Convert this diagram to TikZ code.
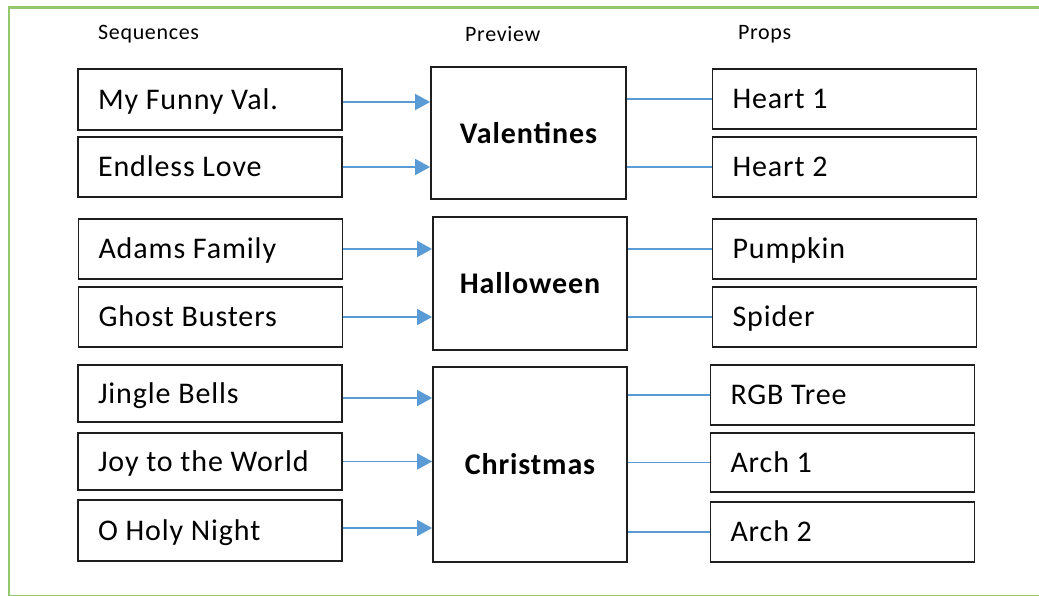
\documentclass[tikz,border=0pt]{standalone}
\usepackage{fontspec}
\setmainfont{Carlito}
\usetikzlibrary{arrows.meta}
\definecolor{framegreen}{RGB}{146,200,110}
\definecolor{arrowblue}{RGB}{91,155,213}
\definecolor{boxline}{RGB}{30,30,30}
\begin{document}
\begin{tikzpicture}[x=1pt,y=-1pt,
  tbox/.style={draw=boxline, line width=1.8pt, minimum height=#1, inner xsep=20pt, inner ysep=0pt,
    text width=224pt, align=left, text height=19.3pt, text depth=0pt,
    font=\fontsize{30}{36}\selectfont\addfontfeature{LetterSpace=3},
    execute at begin node={\spaceskip=0pt\xspaceskip=0pt\relax}},
  tbox/.default=60,
  pbox/.style 2 args={draw=boxline, line width=1.8pt, minimum width=#1, minimum height=#2, inner sep=0pt,
    font=\bfseries\fontsize{30}{36}\selectfont\addfontfeature{LetterSpace=3}},
  head/.style={anchor=west, inner sep=0pt, font=\fontsize{22}{26}\selectfont\addfontfeature{LetterSpace=3}},
  arr/.style={draw=arrowblue, line width=1.8pt, -{Triangle[length=15pt,width=16pt]}},
  lnk/.style={draw=arrowblue, line width=1.6pt}]
\useasboundingbox (0,0) rectangle (1039,595);
\clip (0,0) rectangle (1039,595);
\draw[framegreen, line width=2.6pt] (9,7.5) rectangle (1060,595.8);
% headers
\node[head] (hs) at (98,34) {Sequences};
\node[head] (hp) at (465,34) {Preview};
\node[head] (hr) at (738,34) {Props};
% left boxes
\node[tbox=61] (s1) at (210,99.5) {My Funny Val.};
\node[tbox=60] (s2) at (210,167) {Endless Love};
\node[tbox=60] (s3) at (210.5,249) {Adams Family};
\node[tbox=60] (s4) at (210.5,317) {Ghost Busters};
\node[tbox=57] (s5) at (210,393.5) {Jingle Bells};
\node[tbox=57] (s6) at (210,461.5) {Joy to the World};
\node[tbox=61] (s7) at (210,530.5) {O Holy Night};
% preview boxes
\node[pbox={195pt}{132pt}] (pv) at (528.5,133) {Valentines};
\node[pbox={194pt}{133pt}] (ph) at (530,283.5) {Halloween};
\node[pbox={194pt}{195pt}] (pc) at (530,464.5) {Christmas};
% right boxes
\node[tbox=60] (r1) at (844.5,99) {Heart 1};
\node[tbox=60] (r2) at (844.5,167) {Heart 2};
\node[tbox=60] (r3) at (844.5,249) {Pumpkin};
\node[tbox=60] (r4) at (844.5,317) {Spider};
\node[tbox=60] (r5) at (842.5,395) {RGB Tree};
\node[tbox=59] (r6) at (842.5,462.5) {Arch 1};
\node[tbox=60] (r7) at (842.5,532) {Arch 2};
% arrows in
\draw[arr] ([yshift=-2.5pt]s1.east) -- ([yshift=-2.5pt]s1.east -| pv.west);
\draw[arr] (s2.east) -- (s2.east -| pv.west);
\draw[arr] (s3.east) -- (s3.east -| ph.west);
\draw[arr] (s4.east) -- (s4.east -| ph.west);
\draw[arr] ([yshift=-4.5pt]s5.east) -- ([yshift=-4.5pt]s5.east -| pc.west);
\draw[arr] (s6.east) -- (s6.east -| pc.west);
\draw[arr] ([yshift=2.5pt]s7.east) -- ([yshift=2.5pt]s7.east -| pc.west);
% links out
\draw[lnk] (r1.west -| pv.east) -- (r1.west);
\draw[lnk] (r2.west -| pv.east) -- (r2.west);
\draw[lnk] (r3.west -| ph.east) -- (r3.west);
\draw[lnk] (r4.west -| ph.east) -- (r4.west);
\draw[lnk] (r5.west -| pc.east) -- (r5.west);
\draw[lnk] (r6.west -| pc.east) -- (r6.west);
\draw[lnk] (r7.west -| pc.east) -- (r7.west);
\end{tikzpicture}
\end{document}
